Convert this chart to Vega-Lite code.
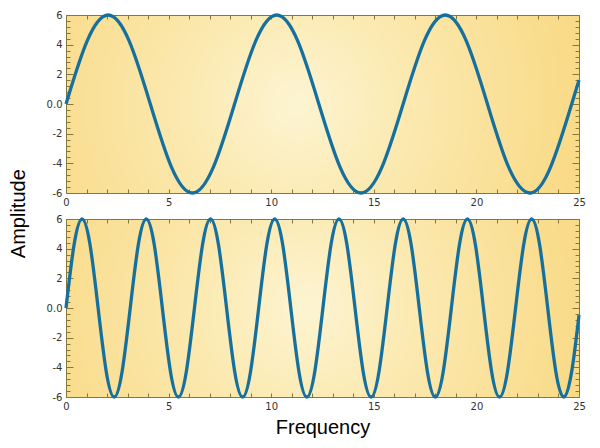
{
  "$schema": "https://vega.github.io/schema/vega-lite/v6.json",
  "padding": {"left": 8, "top": 7, "right": 5, "bottom": 5},
  "title": {"text": "Amplitude", "orient": "left", "anchor": "middle", "fontSize": 20, "font": "Liberation Sans", "fontWeight": "normal", "color": "#000000", "offset": 17, "dx": 9},
  "spacing": 3,
  "datasets": {
    "top": [
      {"x": 0, "y": 0}, {"x": 1.027, "y": 4.24}, {"x": 2.054, "y": 6}, {"x": 3.081, "y": 4.24},
      {"x": 4.108, "y": 0}, {"x": 5.134, "y": -4.24}, {"x": 6.161, "y": -6}, {"x": 7.188, "y": -4.24},
      {"x": 8.215, "y": 0}, {"x": 9.242, "y": 4.24}, {"x": 10.269, "y": 6}, {"x": 11.296, "y": 4.24},
      {"x": 12.323, "y": 0}, {"x": 13.35, "y": -4.24}, {"x": 14.376, "y": -6}, {"x": 15.403, "y": -4.24},
      {"x": 16.43, "y": 0}, {"x": 17.457, "y": 4.24}, {"x": 18.484, "y": 6}, {"x": 19.511, "y": 4.24},
      {"x": 20.538, "y": 0}, {"x": 21.565, "y": -4.24}, {"x": 22.592, "y": -6}, {"x": 23.619, "y": -4.24},
      {"x": 24.645, "y": 0}, {"x": 25, "y": 1.61}
    ],
    "bottom": [
      {"x": 0, "y": 0}, {"x": 0.391, "y": 4.24}, {"x": 0.783, "y": 6}, {"x": 1.174, "y": 4.24},
      {"x": 1.565, "y": 0}, {"x": 1.956, "y": -4.24}, {"x": 2.348, "y": -6}, {"x": 2.739, "y": -4.24},
      {"x": 3.13, "y": 0}, {"x": 3.521, "y": 4.24}, {"x": 3.913, "y": 6}, {"x": 4.304, "y": 4.24},
      {"x": 4.695, "y": 0}, {"x": 5.086, "y": -4.24}, {"x": 5.478, "y": -6}, {"x": 5.869, "y": -4.24},
      {"x": 6.26, "y": 0}, {"x": 6.651, "y": 4.24}, {"x": 7.043, "y": 6}, {"x": 7.434, "y": 4.24},
      {"x": 7.825, "y": 0}, {"x": 8.216, "y": -4.24}, {"x": 8.608, "y": -6}, {"x": 8.999, "y": -4.24},
      {"x": 9.39, "y": 0}, {"x": 9.781, "y": 4.24}, {"x": 10.173, "y": 6}, {"x": 10.564, "y": 4.24},
      {"x": 10.955, "y": 0}, {"x": 11.346, "y": -4.24}, {"x": 11.738, "y": -6}, {"x": 12.129, "y": -4.24},
      {"x": 12.52, "y": 0}, {"x": 12.911, "y": 4.24}, {"x": 13.303, "y": 6}, {"x": 13.694, "y": 4.24},
      {"x": 14.085, "y": 0}, {"x": 14.476, "y": -4.24}, {"x": 14.868, "y": -6}, {"x": 15.259, "y": -4.24},
      {"x": 15.65, "y": 0}, {"x": 16.041, "y": 4.24}, {"x": 16.433, "y": 6}, {"x": 16.824, "y": 4.24},
      {"x": 17.215, "y": 0}, {"x": 17.606, "y": -4.24}, {"x": 17.998, "y": -6}, {"x": 18.389, "y": -4.24},
      {"x": 18.78, "y": 0}, {"x": 19.171, "y": 4.24}, {"x": 19.563, "y": 6}, {"x": 19.954, "y": 4.24},
      {"x": 20.345, "y": 0}, {"x": 20.736, "y": -4.24}, {"x": 21.128, "y": -6}, {"x": 21.519, "y": -4.24},
      {"x": 21.91, "y": 0}, {"x": 22.301, "y": 4.24}, {"x": 22.693, "y": 6}, {"x": 23.084, "y": 4.24},
      {"x": 23.475, "y": 0}, {"x": 23.866, "y": -4.24}, {"x": 24.258, "y": -6}, {"x": 24.649, "y": -4.24},
      {"x": 25, "y": -0.48}
    ]
  },
  "vconcat": [
    {
      "width": 513,
      "height": 178,
      "data": {"name": "top"},
      "view": {"fill": {"gradient": "radial", "x1": 0.45, "y1": 0.5, "r1": 0, "x2": 0.45, "y2": 0.5, "r2": 0.72,
        "stops": [{"offset": 0, "color": "#fcf4d2"}, {"offset": 0.3, "color": "#fbe9b0"}, {"offset": 0.7, "color": "#f9dc8c"}, {"offset": 1, "color": "#f8d477"}]}},
      "layer": [
        {
          "mark": {"type": "line", "strokeOpacity": 0, "interpolate": "natural"},
          "encoding": {
            "x": {"field": "x", "type": "quantitative", "scale": {"domain": [0, 25], "nice": false},
              "axis": {"orient": "bottom", "title": null, "values": [0,1,2,3,4,5,6,7,8,9,10,11,12,13,14,15,16,17,18,19,20,21,22,23,24,25],
                "labelExpr": "datum.value % 5 == 0 ? '' + datum.value : ''", "tickSize": -4, "labelPadding": 8}},
            "y": {"field": "y", "type": "quantitative", "scale": {"domain": [-6, 6], "nice": false},
              "axis": {"orient": "left", "title": null, "values": [-6,-5.6,-5.2,-4.8,-4.4,-4,-3.6,-3.2,-2.8,-2.4,-2,-1.6,-1.2,-0.8,-0.4,0,0.4,0.8,1.2,1.6,2,2.4,2.8,3.2,3.6,4,4.4,4.8,5.2,5.6,6],
                "labelExpr": "datum.value == 0 ? '0.0' : (datum.value % 2 == 0 ? '' + datum.value : '')",
                "tickSize": {"expr": "datum.value % 2 == 0 ? -7 : -4"}, "labelPadding": 11}}
          }
        },
        {
          "mark": {"type": "line", "color": "#16709e", "strokeWidth": 3.3, "interpolate": "natural"},
          "encoding": {
            "x": {"field": "x", "type": "quantitative", "scale": {"domain": [0, 25], "nice": false},
              "axis": {"orient": "top", "title": null, "labels": false, "values": [0,1,2,3,4,5,6,7,8,9,10,11,12,13,14,15,16,17,18,19,20,21,22,23,24,25], "tickSize": -4}},
            "y": {"field": "y", "type": "quantitative", "scale": {"domain": [-6, 6], "nice": false},
              "axis": {"orient": "right", "title": null, "labels": false, "values": [-6,-5.6,-5.2,-4.8,-4.4,-4,-3.6,-3.2,-2.8,-2.4,-2,-1.6,-1.2,-0.8,-0.4,0,0.4,0.8,1.2,1.6,2,2.4,2.8,3.2,3.6,4,4.4,4.8,5.2,5.6,6],
                "tickSize": {"expr": "datum.value % 2 == 0 ? -7 : -4"}}}
          }
        }
      ],
      "resolve": {"axis": {"x": "independent", "y": "independent"}}
    },
    {
      "width": 513,
      "height": 178,
      "data": {"name": "bottom"},
      "view": {"fill": {"gradient": "radial", "x1": 0.47, "y1": 0.5, "r1": 0, "x2": 0.47, "y2": 0.5, "r2": 0.72,
        "stops": [{"offset": 0, "color": "#fcf4d2"}, {"offset": 0.3, "color": "#fbe9b0"}, {"offset": 0.7, "color": "#f9dc8c"}, {"offset": 1, "color": "#f8d477"}]}},
      "layer": [
        {
          "mark": {"type": "line", "strokeOpacity": 0, "interpolate": "natural"},
          "encoding": {
            "x": {"field": "x", "type": "quantitative", "scale": {"domain": [0, 25], "nice": false},
              "axis": {"orient": "bottom", "title": "Frequency", "titlePadding": 6, "values": [0,1,2,3,4,5,6,7,8,9,10,11,12,13,14,15,16,17,18,19,20,21,22,23,24,25],
                "labelExpr": "datum.value % 5 == 0 ? '' + datum.value : ''", "tickSize": -4, "labelPadding": 8}},
            "y": {"field": "y", "type": "quantitative", "scale": {"domain": [-6, 6], "nice": false},
              "axis": {"orient": "left", "title": null, "values": [-6,-5.6,-5.2,-4.8,-4.4,-4,-3.6,-3.2,-2.8,-2.4,-2,-1.6,-1.2,-0.8,-0.4,0,0.4,0.8,1.2,1.6,2,2.4,2.8,3.2,3.6,4,4.4,4.8,5.2,5.6,6],
                "labelExpr": "datum.value == 0 ? '0.0' : (datum.value % 2 == 0 ? '' + datum.value : '')",
                "tickSize": {"expr": "datum.value % 2 == 0 ? -7 : -4"}, "labelPadding": 11}}
          }
        },
        {
          "mark": {"type": "line", "color": "#16709e", "strokeWidth": 3.3, "interpolate": "natural"},
          "encoding": {
            "x": {"field": "x", "type": "quantitative", "scale": {"domain": [0, 25], "nice": false},
              "axis": {"orient": "top", "title": null, "labels": false, "values": [0,1,2,3,4,5,6,7,8,9,10,11,12,13,14,15,16,17,18,19,20,21,22,23,24,25], "tickSize": -4}},
            "y": {"field": "y", "type": "quantitative", "scale": {"domain": [-6, 6], "nice": false},
              "axis": {"orient": "right", "title": null, "labels": false, "values": [-6,-5.6,-5.2,-4.8,-4.4,-4,-3.6,-3.2,-2.8,-2.4,-2,-1.6,-1.2,-0.8,-0.4,0,0.4,0.8,1.2,1.6,2,2.4,2.8,3.2,3.6,4,4.4,4.8,5.2,5.6,6],
                "tickSize": {"expr": "datum.value % 2 == 0 ? -7 : -4"}}}
          }
        }
      ],
      "resolve": {"axis": {"x": "independent", "y": "independent"}}
    }
  ],
  "config": {
    "view": {"stroke": "#84783f", "strokeWidth": 1},
    "axis": {"grid": false, "domain": false, "tickColor": "#84783f", "tickWidth": 1,
      "labelFont": "DejaVu Sans", "labelFontSize": 10, "labelColor": "#333333", "labelFlush": false, "labelOverlap": false,
      "titleFont": "Liberation Sans", "titleFontSize": 20, "titleFontWeight": "normal", "titleColor": "#000000"}
  }
}
